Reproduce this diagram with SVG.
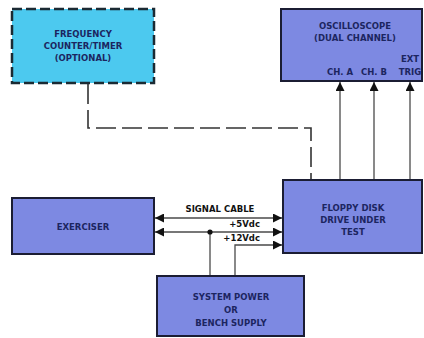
<svg xmlns="http://www.w3.org/2000/svg" width="424" height="338" viewBox="0 0 424 338">
<style>
.box{fill:#7d89e2;stroke:#1b1d33;stroke-width:2}
.cyan{fill:#4cc9ef;stroke:#1b2a33;stroke-width:2.5;stroke-dasharray:10 4}
.t{font-family:"DejaVu Sans",sans-serif;font-weight:bold;font-size:8.5px;fill:#1c2560}
.m{text-anchor:middle}
.e{text-anchor:end}
.lbl{font-family:"DejaVu Sans",sans-serif;font-weight:bold;font-size:8.5px;fill:#111}
.w{fill:none;stroke:#4a4a4a;stroke-width:1.3}
.dash{fill:none;stroke:#333;stroke-width:1.6;stroke-dasharray:20 6}
</style>
<defs>
<marker id="ah" viewBox="0 0 10 10" refX="10" refY="5" markerWidth="9" markerHeight="9" markerUnits="userSpaceOnUse" orient="auto-start-reverse">
<path d="M0,0 L10,5 L0,10 Z" fill="#111"/>
</marker>
</defs>
<rect width="424" height="338" fill="#fff"/>
<g id="connectors">
<path class="dash" d="M88,84 V128 H311 V180"/>
<line class="w" x1="340" y1="180" x2="340" y2="82" marker-end="url(#ah)"/>
<line class="w" x1="374" y1="180" x2="374" y2="82" marker-end="url(#ah)"/>
<line class="w" x1="410" y1="180" x2="410" y2="82" marker-end="url(#ah)"/>
<line class="w" x1="155" y1="218" x2="282" y2="218" marker-start="url(#ah)" marker-end="url(#ah)"/>
<line class="w" x1="155" y1="232" x2="282" y2="232" marker-start="url(#ah)" marker-end="url(#ah)"/>
<path class="w" d="M210,276 V232"/>
<circle cx="210" cy="232" r="2.6" fill="#111"/>
<path class="w" d="M235,276 V245 H282" marker-end="url(#ah)"/>
<text class="lbl m" x="220" y="212">SIGNAL CABLE</text>
<text class="lbl e" x="260" y="227">+5Vdc</text>
<text class="lbl e" x="260" y="241">+12Vdc</text>
</g>
<g id="counter">
<rect class="cyan" x="12" y="9" width="142" height="74"/>
<text class="t m" x="83" y="37">FREQUENCY</text>
<text class="t m" x="83" y="49">COUNTER/TIMER</text>
<text class="t m" x="83" y="61">(OPTIONAL)</text>
</g>
<g id="oscilloscope">
<rect class="box" x="281" y="9" width="141" height="72"/>
<text class="t m" x="355" y="29">OSCILLOSCOPE</text>
<text class="t m" x="355" y="41">(DUAL CHANNEL)</text>
<text class="t m" x="410" y="62">EXT</text>
<text class="t m" x="340" y="75">CH. A</text>
<text class="t m" x="374" y="75">CH. B</text>
<text class="t m" x="410" y="75">TRIG</text>
</g>
<g id="floppy">
<rect class="box" x="283" y="180" width="139" height="73"/>
<text class="t m" x="353" y="211">FLOPPY DISK</text>
<text class="t m" x="353" y="223">DRIVE UNDER</text>
<text class="t m" x="353" y="235">TEST</text>
</g>
<g id="exerciser">
<rect class="box" x="12" y="198" width="142" height="56"/>
<text class="t m" x="83" y="230">EXERCISER</text>
</g>
<g id="power">
<rect class="box" x="157" y="276" width="147" height="60"/>
<text class="t m" x="231" y="300">SYSTEM POWER</text>
<text class="t m" x="231" y="313">OR</text>
<text class="t m" x="231" y="326">BENCH SUPPLY</text>
</g>
</svg>
